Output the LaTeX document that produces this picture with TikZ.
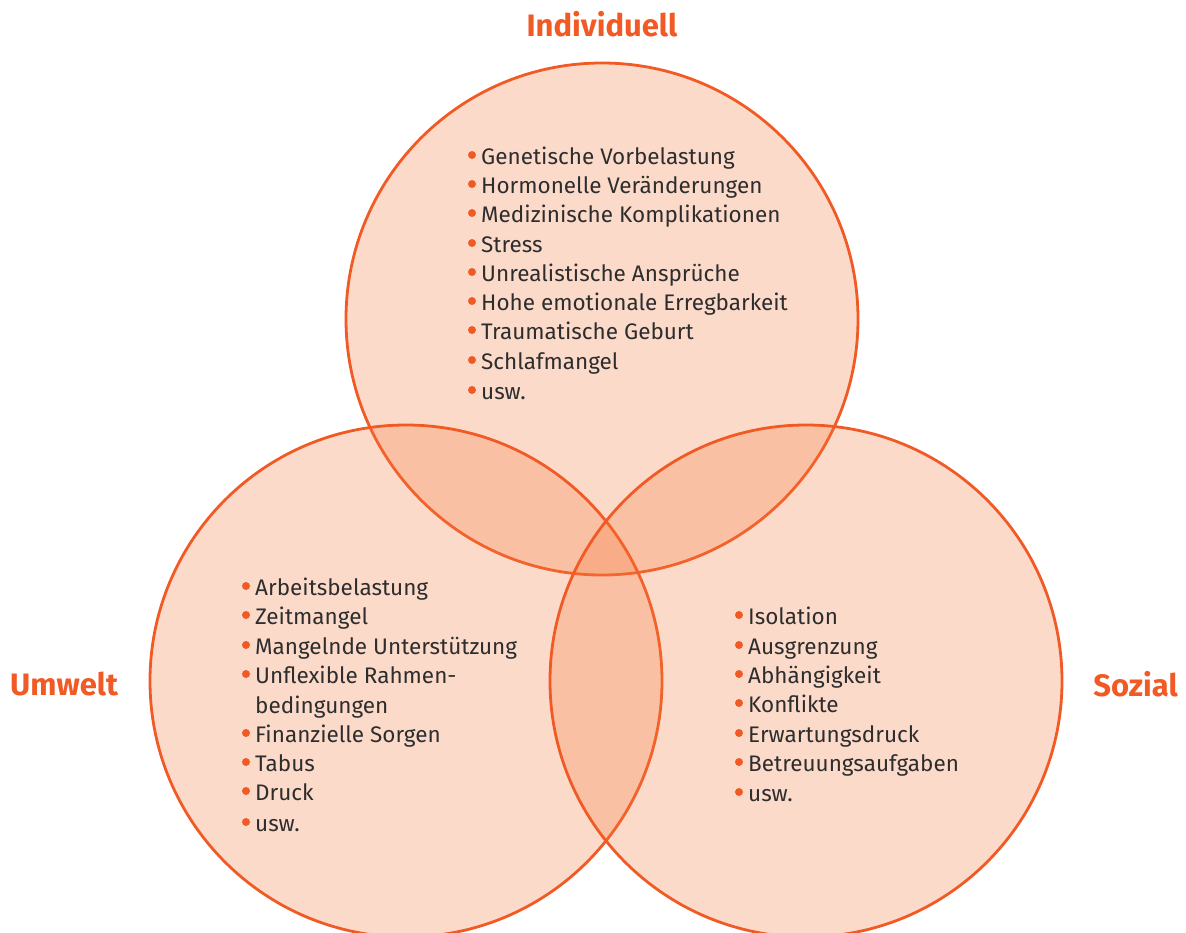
\documentclass[tikz,border=0pt]{standalone}
\usepackage{fontspec}
\setmainfont{Fira Sans}
\definecolor{org}{RGB}{241,90,36}
\definecolor{orfill}{RGB}{245,120,60}
\definecolor{txt}{RGB}{45,45,45}
\begin{document}
\begin{tikzpicture}[x=1pt,y=-1pt,
  item/.style={anchor=base west, text=txt, font=\fontsize{22.5}{26}\selectfont, inner sep=0pt},
  title/.style={text=org, font=\fontsize{31}{35}\selectfont\bfseries, inner sep=0pt},
  dot/.style={circle, fill=org, inner sep=0pt, minimum size=8pt},
  ring/.style={circle, draw=org, line width=2.8pt, fill=orfill, fill opacity=0.27, minimum size=512pt, inner sep=0pt}]
\useasboundingbox (0,0) rectangle (1186,932);
\begin{scope}
\clip (0,0) rectangle (1186,932);
\node[ring] (cInd) at (602,319) {};
\node[ring] (cUmw) at (406,681) {};
\node[ring] (cSoz) at (806,681) {};
\end{scope}
\node[title] (tInd) at (602,24) {Individuell};
\node[title, anchor=west] (tUmw) at (10,684) {Umwelt};
\node[title, anchor=east] (tSoz) at (1178,684) {Sozial};
% top list
\foreach [count=\i] \t/\y in {Genetische Vorbelastung/155, Hormonelle Veränderungen/184, Medizinische Komplikationen/213, Stress/243, Unrealistische Ansprüche/272, Hohe emotionale Erregbarkeit/301, Traumatische Geburt/330, Schlafmangel/360, usw./390}{
  \node[dot] (di\i) at (472,\y) {};
  \node[item] (ii\i) at (481,\y+9) {\t};
}
% left list
\foreach [count=\i] \t/\y in {Arbeitsbelastung/586, Zeitmangel/615, Mangelnde Unterstützung/645, Unflexible Rahmen-/674, Finanzielle Sorgen/733, Tabus/762, Druck/791, usw./822}{
  \node[dot] (du\i) at (246,\y) {};
  \node[item] (iu\i) at (255,\y+9) {\t};
}
\node[item] (iu9) at (255,713) {bedingungen};
% right list
\foreach [count=\i] \t/\y in {Isolation/615, Ausgrenzung/645, Abhängigkeit/674, Konflikte/703, Erwartungsdruck/733, Betreuungsaufgaben/762, usw./792}{
  \node[dot] (ds\i) at (739,\y) {};
  \node[item] (is\i) at (748,\y+9) {\t};
}
\end{tikzpicture}
\end{document}
